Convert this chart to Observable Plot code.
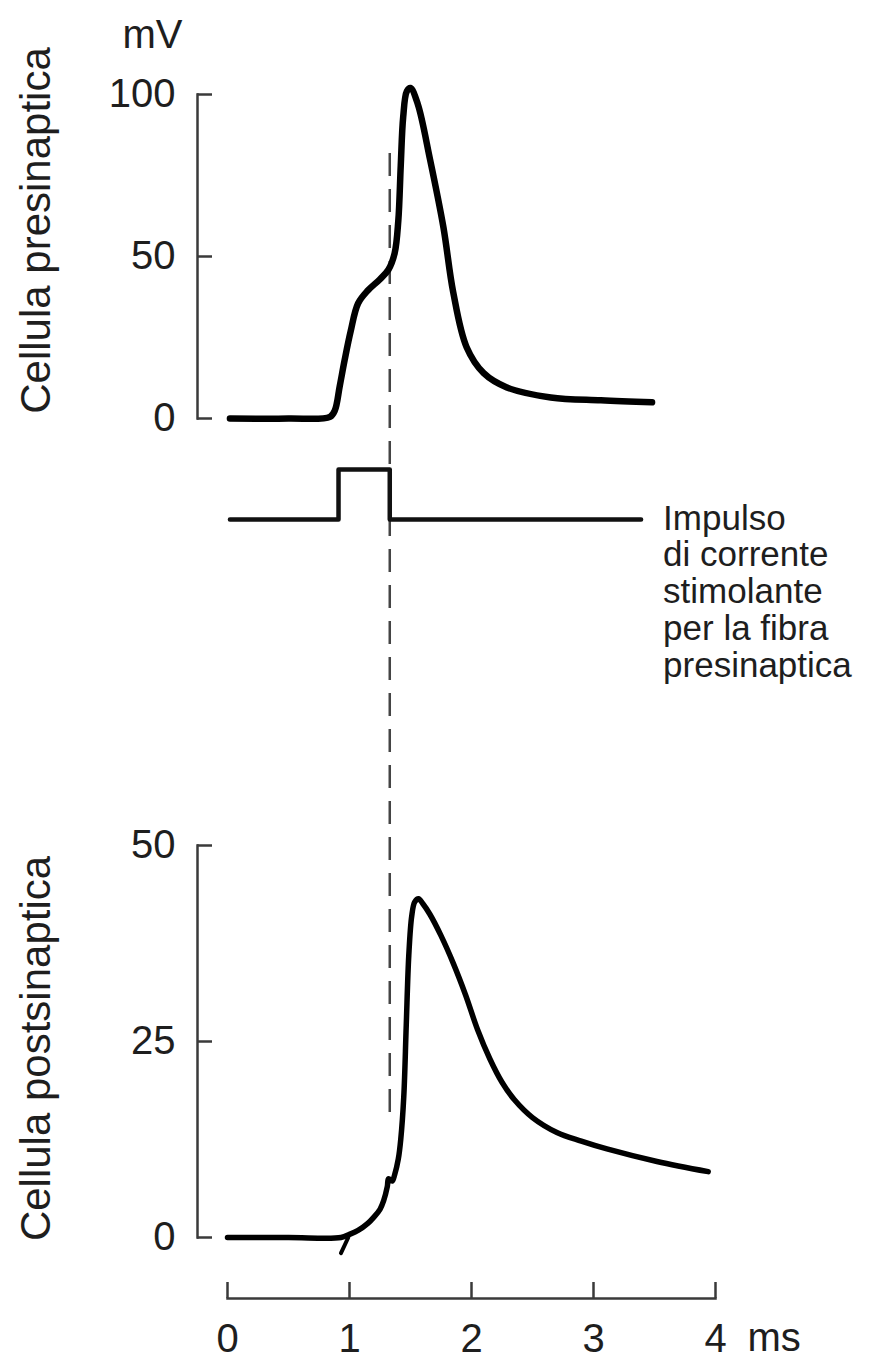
<!DOCTYPE html>
<html>
<head>
<meta charset="utf-8">
<script src="https://cdn.jsdelivr.net/npm/d3@7"></script>
<script src="https://cdn.jsdelivr.net/npm/@observablehq/plot@0.6"></script>
<style>
  body { margin: 0; background: #fff; }
  #chart { position: relative; width: 893px; height: 1359px; overflow: hidden; background: #fff; }
  #chart svg { position: absolute; left: 0; }
</style>
</head>
<body>
<div id="chart"></div>
<script>
// ---------- data ----------
const timeTicks = [0, 1, 2, 3, 4];
const timeUnit = "ms";
const preTicks = [0, 50, 100];
const postTicks = [0, 25, 50];
const preUnit = "mV";
const preLabel = "Cellula presinaptica";
const postLabel = "Cellula postsinaptica";
const stimLines = ["Impulso", "di corrente", "stimolante", "per la fibra", "presinaptica"];

// presynaptic action potential (ms, mV)
const preT = [0.02, 0.5, 0.84, 0.88, 0.92, 0.96, 1.01, 1.07, 1.15, 1.25, 1.32, 1.37, 1.40, 1.42, 1.44, 1.47, 1.50, 1.56, 1.66, 1.77, 1.85, 1.96, 2.10, 2.29, 2.65, 3.06, 3.48];
const preV = [0, 0, 0.5, 2.5, 10, 18, 27, 35.5, 39.5, 43, 46, 51, 61, 78, 93, 101, 102, 97, 80, 59, 39, 22, 14, 9.6, 6.5, 5.6, 5];

// stimulating current pulse (ms, on/off)
const stimT = [0.02, 0.91, 0.91, 1.33, 1.33, 3.39];
const stimV = [0, 0, 1, 1, 0, 0];

// postsynaptic potential (ms, mV)
const postT = [0, 0.5, 0.93, 1.0, 1.07, 1.15, 1.20, 1.25, 1.28, 1.31, 1.32, 1.35, 1.37, 1.40, 1.42, 1.445, 1.465, 1.486, 1.51, 1.535, 1.566, 1.60, 1.66, 1.75, 1.85, 1.95, 2.05, 2.15, 2.25, 2.35, 2.50, 2.70, 2.90, 3.11, 3.52, 3.94];
const postV = [0, 0, 0, 0.4, 0.9, 1.8, 2.6, 3.6, 4.7, 6.5, 7.5, 7.2, 8, 10, 12.5, 18, 27, 36, 41, 42.8, 43.2, 42.6, 41.2, 38.5, 35, 31, 26.5, 22.8, 19.8, 17.6, 15.3, 13.4, 12.3, 11.3, 9.7, 8.4];
// small stimulus artifact at the start of the rise
const artT = [0.93, 0.99];
const artV = [-2, 0];

// ---------- build ----------
const pre = preT.map((t, i) => ({t, v: preV[i]}));
const stim = stimT.map((t, i) => ({t, v: stimV[i]}));
const post = postT.map((t, i) => ({t, v: postV[i]}));
const art = artT.map((t, i) => ({t, v: artV[i]}));

const W = 893;
const FONT = "'Liberation Sans', Arial, Helvetica, sans-serif";
const AXIS = "#3a3a3a";
const TXT = "#1e1e1e";
const xScale = {domain: [0, 4], range: [227, 715]};
const style = {background: "transparent", overflow: "visible", fontFamily: FONT, color: TXT};
const chart = document.getElementById("chart");
function place(svg, top) { svg.style.top = top + "px"; chart.appendChild(svg); }

// dashed marker (stimulus end), behind everything
place(Plot.plot({
  width: W, height: 1359, marginTop: 153, marginBottom: 244, marginLeft: 197, marginRight: 178,
  x: {...xScale, axis: null},
  style,
  marks: [
    Plot.ruleX([stimT[3]], {x: d => d, stroke: "#444", strokeWidth: 2.5, strokeDasharray: "23,13"})
  ]
}), 0);

// presynaptic panel
place(Plot.plot({
  width: W, height: 440, marginTop: 94, marginBottom: 22, marginLeft: 197, marginRight: 178,
  x: {...xScale, axis: null},
  y: {domain: [0, 100]},
  style,
  marks: [
    Plot.frame({anchor: "left", stroke: AXIS, strokeWidth: 2.5}),
    Plot.axisY(preTicks, {label: null, tickSize: -15, tickPadding: 37, stroke: AXIS, strokeWidth: 2.5, fontSize: 40, fill: TXT}),
    Plot.text([preUnit], {text: d => d, frameAnchor: "top-left", textAnchor: "middle", lineAnchor: "middle", dx: -45, dy: -59, fontSize: 40, fill: TXT}),
    Plot.text([preLabel], {text: d => d, frameAnchor: "left", textAnchor: "middle", lineAnchor: "middle", rotate: -90, dx: -161, dy: -26, fontSize: 42, fill: TXT}),
    Plot.line(pre, {x: "t", y: "v", curve: "catmull-rom", stroke: "#000", strokeWidth: 6.5})
  ]
}), 0);

// stimulus panel
place(Plot.plot({
  width: W, height: 300, marginTop: 29, marginBottom: 221, marginLeft: 197, marginRight: 178,
  x: {...xScale, axis: null},
  y: {domain: [0, 1], axis: null},
  style,
  marks: [
    Plot.line(stim, {x: "t", y: "v", stroke: "#111", strokeWidth: 4.5}),
    Plot.text([stim[stim.length - 1]], {x: "t", y: "v", text: () => stimLines.join("\n"), textAnchor: "start", lineAnchor: "top", dx: 22, dy: -16, fontSize: 35, lineHeight: 1.05, fill: TXT})
  ]
}), 440);

// postsynaptic panel
place(Plot.plot({
  width: W, height: 460, marginTop: 45, marginBottom: 23, marginLeft: 197, marginRight: 178,
  x: {...xScale, axis: null},
  y: {domain: [0, 50]},
  style,
  marks: [
    Plot.frame({anchor: "left", stroke: AXIS, strokeWidth: 2.5}),
    Plot.axisY(postTicks, {label: null, tickSize: -15, tickPadding: 37, stroke: AXIS, strokeWidth: 2.5, fontSize: 40, fill: TXT}),
    Plot.text([postLabel], {text: d => d, frameAnchor: "left", textAnchor: "middle", lineAnchor: "middle", rotate: -90, dx: -161, dy: 7, fontSize: 42, fill: TXT}),
    Plot.line(art, {x: "t", y: "v", stroke: "#000", strokeWidth: 4}),
    Plot.line(post, {x: "t", y: "v", curve: "catmull-rom", stroke: "#000", strokeWidth: 5.5})
  ]
}), 800);

// time axis
place(Plot.plot({
  width: W, height: 99, marginTop: 22, marginBottom: 61, marginLeft: 227, marginRight: 178,
  x: {...xScale},
  style,
  marks: [
    Plot.frame({anchor: "bottom", stroke: AXIS, strokeWidth: 2.5}),
    Plot.tickX(timeTicks, {x: d => d, stroke: AXIS, strokeWidth: 2.5}),
    Plot.axisX(timeTicks, {label: null, tickSize: 0, tickPadding: 25, tickFormat: d => String(d), fontSize: 40, fill: TXT}),
    Plot.text([timeUnit], {text: d => d, frameAnchor: "bottom-right", textAnchor: "start", lineAnchor: "middle", dx: 32, dy: 40, fontSize: 40, fill: TXT})
  ]
}), 1260);
</script>
</body>
</html>
